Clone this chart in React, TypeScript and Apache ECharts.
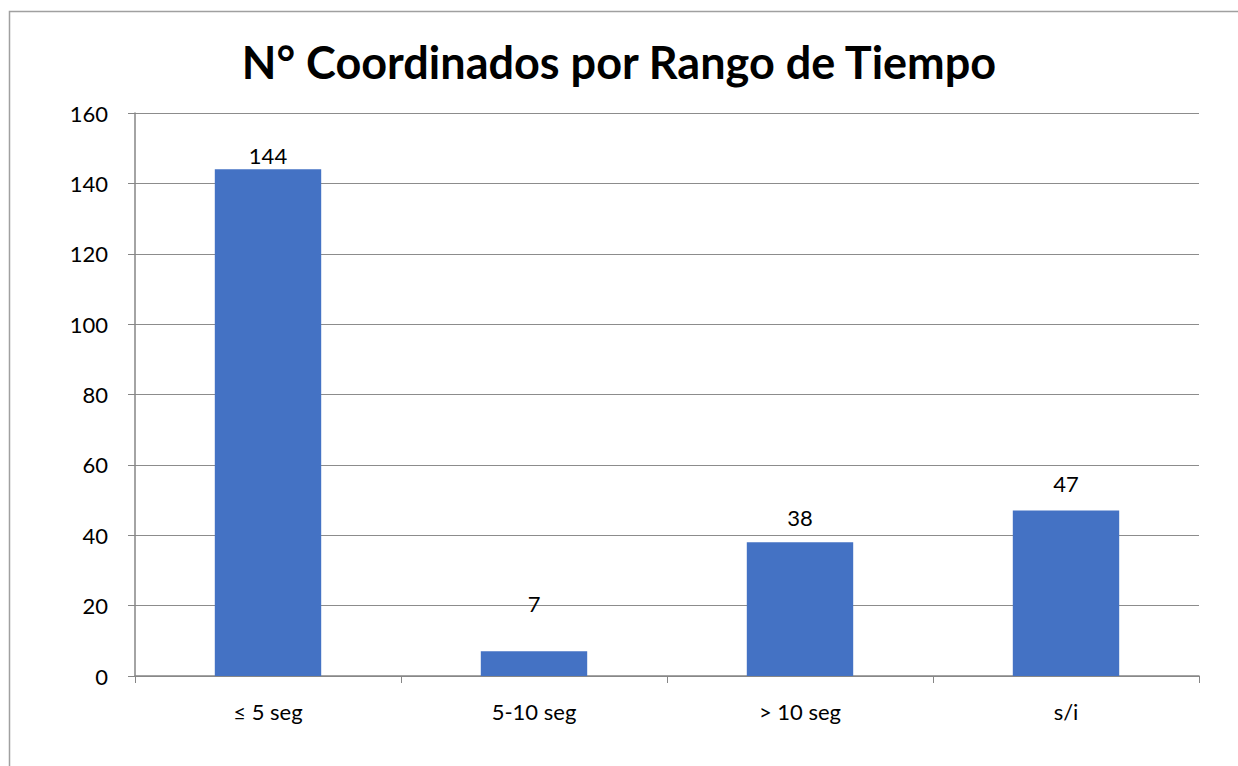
import React, { useEffect, useRef } from "react";
import * as echarts from "echarts";

const categories = ["≤ 5 seg", "5-10 seg", "> 10 seg", "s/i"];
const values = [144, 7, 38, 47];
const labelOffsets = [0, -34, -11, -13];
const yTicks = { min: 0, max: 160, interval: 20 };

export default function App() {
  const ref = useRef<HTMLDivElement>(null);
  useEffect(() => {
    const chart = echarts.init(ref.current!, null, { renderer: "svg" });
    chart.setOption({
      animation: false,
      backgroundColor: "#ffffff",
      graphic: [
        {
          type: "rect",
          shape: { x: 9.5, y: 11.5, width: 1260, height: 800 },
          style: { fill: "none", stroke: "#a0a0a0", lineWidth: 1.5 },
          silent: true,
        },
      ],
      title: {
        text: "N° Coordinados por Rango de Tiempo",
        left: "center",
        top: 34,
        textStyle: {
          fontFamily: "Lato",
          fontWeight: "bold",
          fontSize: 45,
          color: "#000000",
        },
      },
      grid: { left: 135, right: 39, top: 113, bottom: 90 },
      xAxis: {
        type: "category",
        data: categories,
        axisLine: { lineStyle: { color: "#868686", width: 1.5 } },
        axisTick: { show: true, length: 7, lineStyle: { color: "#868686" } },
        axisLabel: {
          color: "#000000",
          fontFamily: "Lato",
          fontSize: 22,
          margin: 24,
        },
      },
      yAxis: {
        type: "value",
        min: yTicks.min,
        max: yTicks.max,
        interval: yTicks.interval,
        axisLine: { show: true, lineStyle: { color: "#868686", width: 1.5 } },
        axisTick: { show: true, length: 7, lineStyle: { color: "#868686" } },
        splitLine: { lineStyle: { color: "#8c8c8c", width: 1 } },
        axisLabel: {
          color: "#000000",
          fontFamily: "Lato",
          fontSize: 22,
          margin: 27,
        },
      },
      series: [
        {
          type: "bar",
          data: values.map((v, i) => ({
            value: v,
            label: { offset: [0, labelOffsets[i]] },
          })),
          barWidth: "40%",
          itemStyle: { color: "#4472C4" },
          label: {
            show: true,
            position: "top",
            distance: 3,
            color: "#000000",
            fontFamily: "Lato",
            fontSize: 22,
          },
        },
      ],
    });
    return () => chart.dispose();
  }, []);
  return (
    <div
      ref={ref}
      style={{ position: "fixed", left: 0, top: 0, width: 1238, height: 766 }}
    />
  );
}
